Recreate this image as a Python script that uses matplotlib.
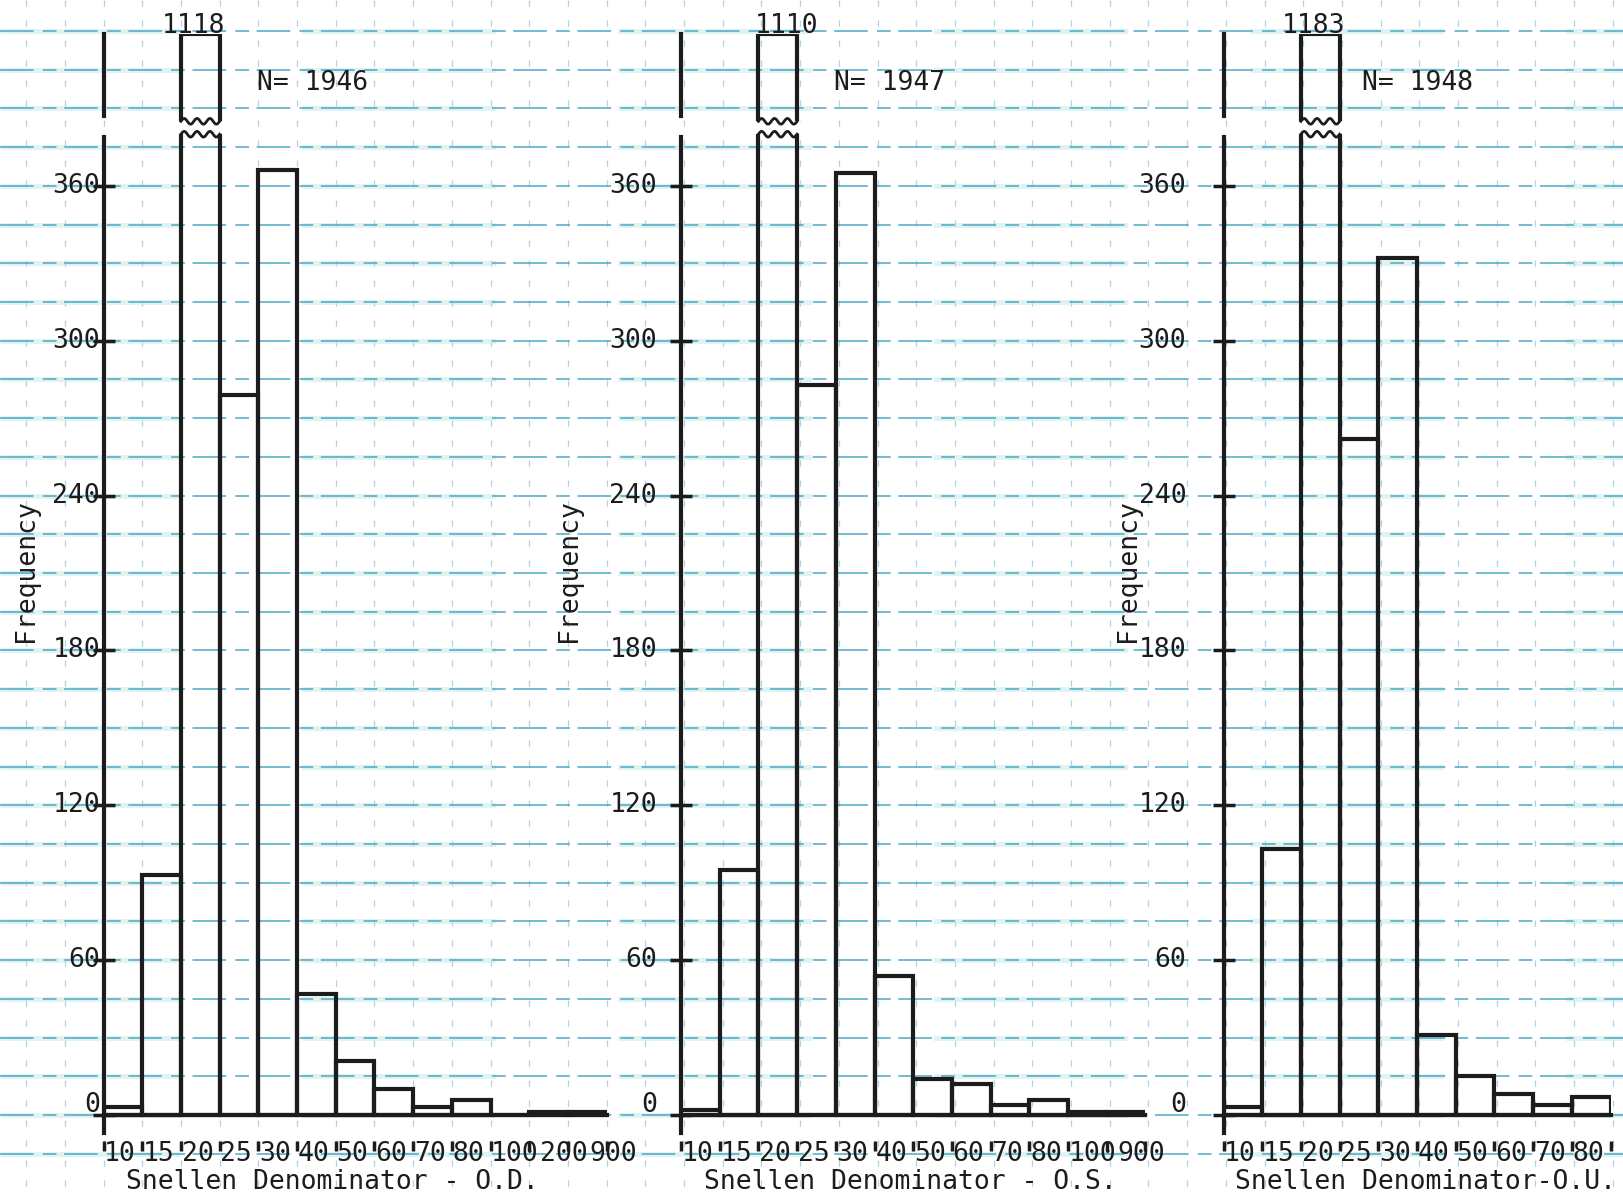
import numpy as np
import matplotlib.pyplot as plt
from matplotlib.patches import Rectangle

plt.rcParams['font.family'] = ['DejaVu Sans Mono']

# visual acuity counts per Snellen denominator, one histogram per eye
od_labels = ["10", "15", "20", "25", "30", "40", "50", "60", "70", "80", "100", "200", "900"]
od_counts = [3, 93, 1118, 279, 366, 47, 21, 10, 3, 6, 0, 1, 1]

os_labels = ["10", "15", "20", "25", "30", "40", "50", "60", "70", "80", "100", "900"]
os_counts = [2, 95, 1110, 283, 365, 54, 14, 12, 4, 6, 1, 1]

ou_labels = ["10", "15", "20", "25", "30", "40", "50", "60", "70", "80"]
ou_counts = [3, 103, 1183, 262, 332, 31, 15, 8, 4, 7]

n_totals = [1946, 1947, 1948]
x_titles = ["Snellen Denominator - O.D.", "Snellen Denominator - O.S.",
            "Snellen Denominator-O.U."]
y_ticks = [0, 60, 120, 180, 240, 300, 360]

# page geometry (pixels)
W, H = 1623, 1200
BIN_PX = 38.7          # one bin = one square of the graph paper
UNIT_PX = 2.581        # pixels per count below the break
BASE_Y = 1115          # pixel row of the zero line
BREAK = 380            # where the tall bar is cut
GAP = 5
TOP = 419              # drawn height of the tall bar
YMIN = -10
INK = '#1c1c1c'
FS = 19
CHAR_W = 0.602 * FS * 100 / 72 / BIN_PX   # monospace glyph width in bins

panel_left = [103.5, 681, 1223.5]
ylab_off = [0.09, 0.62, 0.96]
freq_x = [-2.0, -2.9, -2.47]
title_x = [0.58, 0.6, 0.3]
n_x = [3.97, 3.95, 3.58]
peak_dx = [-4.5, 6.5, -5]


def make_scale(peak):
    k = (TOP - BREAK) / (peak - BREAK)

    def fwd(v):
        v = np.asarray(v, dtype=float)
        return np.where(v <= BREAK, v, BREAK + (v - BREAK) * k)

    def inv(u):
        u = np.asarray(u, dtype=float)
        return np.where(u <= BREAK, u, BREAK + (u - BREAK) / k)

    return fwd, inv


fig = plt.figure(figsize=(W / 100, H / 100), dpi=100)
fig.patch.set_facecolor('white')

# graph paper
bg = fig.add_axes([0, 0, 1, 1], zorder=0)
bg.set_xlim(0, W)
bg.set_ylim(H, 0)
bg.axis('off')
rows = BASE_Y - np.arange(-1, 30) * 15 * UNIT_PX
cols = panel_left[0] + np.arange(-3, 40) * BIN_PX
bg.vlines(cols, 0, H, colors='#7bbdd2', lw=0.9, alpha=0.65,
          linestyles=(0, (5, 11)))
bg.hlines(rows, 0, W, colors='#c6ebe5', lw=3.5, alpha=0.55,
          linestyles=(3, (40, 25)))
bg.hlines(rows, 0, W, colors='#3d9fc2', lw=1.1, alpha=0.9,
          linestyles=(0, (22, 6, 9, 5)))

panels = [(od_labels, od_counts), (os_labels, os_counts), (ou_labels, ou_counts)]

for i, (labels, counts) in enumerate(panels):
    n = len(counts)
    peak = max(counts)
    ib = int(np.argmax(counts))
    fwd, inv = make_scale(peak)

    bottom_px = BASE_Y - YMIN * UNIT_PX
    rect = [panel_left[i] / W, (H - bottom_px) / H,
            n * BIN_PX / W, (TOP - YMIN) * UNIT_PX / H]
    ax = fig.add_axes(rect, zorder=1)
    ax.set_yscale('function', functions=(fwd, inv))
    ax.set_ylim(YMIN, peak)
    ax.set_xlim(0, n)
    ax.patch.set_alpha(0)
    for s in ax.spines.values():
        s.set_visible(False)

    ax.bar(np.arange(n), counts, width=1, align='edge', fill=False,
           edgecolor=INK, linewidth=3, zorder=3)

    # cut through the tall bar
    lo = BREAK
    hi = float(inv(BREAK + GAP))
    ax.add_patch(Rectangle((ib - 0.1, lo), 1.2, hi - lo, facecolor='white',
                           edgecolor='none', zorder=4))
    xw = np.linspace(ib, ib + 1, 80)
    wave = 1.1 * np.sin(xw * 2 * np.pi * 3)
    ax.plot(xw, inv(BREAK + wave), color=INK, lw=2, zorder=5)
    ax.plot(xw, inv(BREAK + GAP + wave), color=INK, lw=2, zorder=5)

    # axis lines, broken at the cut
    ax.plot([0, 0], [-7, BREAK - 1], color=INK, lw=3, clip_on=False, zorder=5)
    ax.plot([0, 0], [float(inv(BREAK + GAP + 2)), peak], color=INK, lw=3,
            clip_on=False, zorder=5)
    ax.plot([0, n], [0, 0], color=INK, lw=3, clip_on=False, zorder=5)

    ax.set_xticks(np.arange(n + 1))
    ax.set_xticklabels([])
    ax.tick_params(axis='x', direction='out', length=7, width=2.5, color=INK)
    ax.set_yticks(y_ticks)
    ax.set_yticklabels([])
    ax.yaxis.set_minor_locator(plt.NullLocator())
    ax.tick_params(axis='y', direction='inout', length=16, width=2.5, color=INK)

    for t in y_ticks:
        ax.text(-ylab_off[i], t + (4 if t == 0 else 0), str(t), ha='right',
                va='center', fontsize=FS, color=INK, clip_on=False)

    # typed denominators: start at the bin edge, pushed right when crowded
    x_next = -1.0
    for j, lab in enumerate(labels):
        x0 = max(j + 0.02, x_next)
        ax.text(x0, -15, lab, ha='left', va='center', fontsize=FS,
                color=INK, clip_on=False)
        x_next = x0 + len(lab) * CHAR_W + 0.03

    ax.text(title_x[i], -26, x_titles[i], ha='left', va='center',
            fontsize=FS, color=INK, clip_on=False)
    ax.text(freq_x[i], 211, 'Frequency', rotation=90, ha='center',
            va='center', fontsize=FS, color=INK, clip_on=False)
    ax.text(n_x[i], float(inv(400)), f"N= {n_totals[i]}", ha='left',
            va='center', fontsize=FS, color=INK)
    ax.annotate(str(peak), (ib + 0.5, peak), xytext=(peak_dx[i], -4),
                textcoords='offset points', ha='center', va='bottom',
                fontsize=FS, color=INK, annotation_clip=False)

fig.savefig('out.png', dpi=100, facecolor='white')
